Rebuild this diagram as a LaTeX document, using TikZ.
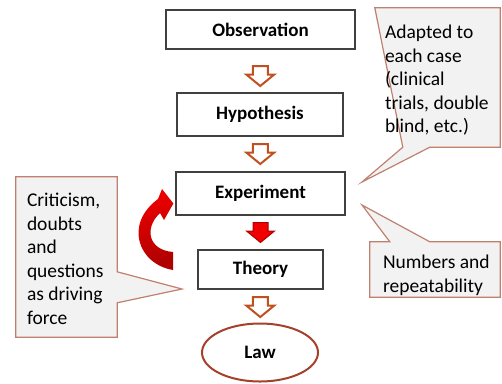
\documentclass[tikz,border=0pt]{standalone}
\usepackage{fontspec}
\setmainfont{Carlito}
\usetikzlibrary{calc,shapes.geometric}
\definecolor{boxline}{HTML}{404040}
\definecolor{calloutline}{HTML}{C0806F}
\definecolor{calloutfill}{HTML}{F2F2F2}
\definecolor{arrowline}{HTML}{C0501F}
\definecolor{lawline}{HTML}{A5402A}
\definecolor{redarrow}{HTML}{F00000}
\definecolor{darkred}{HTML}{B00000}
\begin{document}
\begin{tikzpicture}[x=1pt,y=-1pt,
  stepbox/.style={draw=boxline,line width=1.2pt,fill=white,inner sep=0pt,
    font=\fontsize{19}{22}\selectfont\bfseries},
  calloutbox/.style={inner sep=0pt},
  calloutshape/.style={draw=calloutline,fill=calloutfill,line width=1.2pt,line join=miter},
  callouttext/.style={inner sep=0pt,align=left,anchor=north west,
    font=\fontsize{19.5}{23.6}\selectfont},
  hollowarrow/.style={draw=arrowline,fill=white,line width=2pt,line join=miter},
  filledarrow/.style={draw=darkred,fill=redarrow,line width=1pt,line join=miter},
  pics/downarrow/.style={code={
    \draw[#1] (-7.5,-10) -- (7.5,-10) -- (7.5,-1.5) -- (14,-1.5) -- (0,10) -- (-14,-1.5) -- (-7.5,-1.5) -- cycle;}}
]
\useasboundingbox (0,0) rectangle (502,383);

% main chain
\node[stepbox,minimum width=189pt,minimum height=39pt] (obs) at (260.5,29.5) {Observation};
\node[stepbox,minimum width=166pt,minimum height=43pt] (hyp) at (260,114.5) {Hypothesis};
\node[stepbox,minimum width=169pt,minimum height=43pt] (exp) at (260.5,193.5) {Experiment};
\node[stepbox,minimum width=125pt,minimum height=39pt] (the) at (260.5,269.5) {Theory};
\node[ellipse,draw=lawline,line width=2pt,fill=white,minimum width=116pt,minimum height=58pt,
  inner sep=0pt,font=\fontsize{19}{22}\selectfont\bfseries] (law) at (260,352.5) {Law};

% block arrows
\pic at ($(obs.south)!0.5!(hyp.north)+(0,5)$) {downarrow=hollowarrow};
\pic at ($(hyp.south)!0.5!(exp.north)$) {downarrow=hollowarrow};
\pic at ($(exp.south)!0.5!(the.north)$) {downarrow=filledarrow};
\pic at ($(the.south)!0.5!(law.north)+(0,1)$) {downarrow=hollowarrow};

% curved red arrow (feedback)
\coordinate (fbtip) at ($(exp.west)+(-2,10)$);
\shade[top color=redarrow,bottom color=darkred,shading angle=20]
  (173,270) .. controls (138,264) and (124,224) .. (158,199)
  -- (162,189) -- (fbtip) -- (164,220) -- (160,213)
  .. controls (144,228) and (148,250) .. (173,252) -- cycle;

% left callout
\node[calloutbox,minimum width=101pt,minimum height=160pt] (cl) at (66.5,257) {};
\coordinate (cltip) at (182,289);
\draw[calloutshape] (cl.north west) -- (cl.north east) -- ($(cl.north east)+(0,95)$) -- (cltip)
  -- ($(cl.north east)+(0,126)$) -- (cl.south east) -- (cl.south west) -- cycle;
\node[callouttext] at ($(cl.north west)+(11,16)$) {Criticism,\\doubts\\and\\questions\\as driving\\force};

% top right callout
\node[calloutbox,minimum width=125pt,minimum height=139pt] (cr) at (437.5,77.5) {};
\coordinate (crtip) at (362,182);
\draw[calloutshape] (cr.north west) -- (cr.north east) -- (cr.south east)
  -- ($(cr.south west)+(55,0)$) -- (crtip) -- ($(cr.south west)+(28,0)$) -- cycle;
\node[callouttext] at ($(cr.north west)+(10,17)$) {Adapted to\\each case\\(clinical\\trials, double\\blind, etc.)};

% bottom right callout
\node[calloutbox,minimum width=130pt,minimum height=55pt] (cb) at (435,269.5) {};
\coordinate (cbtip) at (362,205);
\draw[calloutshape] (cb.north west) -- ($(cb.north west)+(20,0)$) -- (cbtip)
  -- ($(cb.north west)+(60,0)$) -- (cb.north east) -- (cb.south east) -- (cb.south west) -- cycle;
\node[callouttext] at ($(cb.north west)+(13,13)$) {Numbers and\\repeatability};
\end{tikzpicture}
\end{document}
